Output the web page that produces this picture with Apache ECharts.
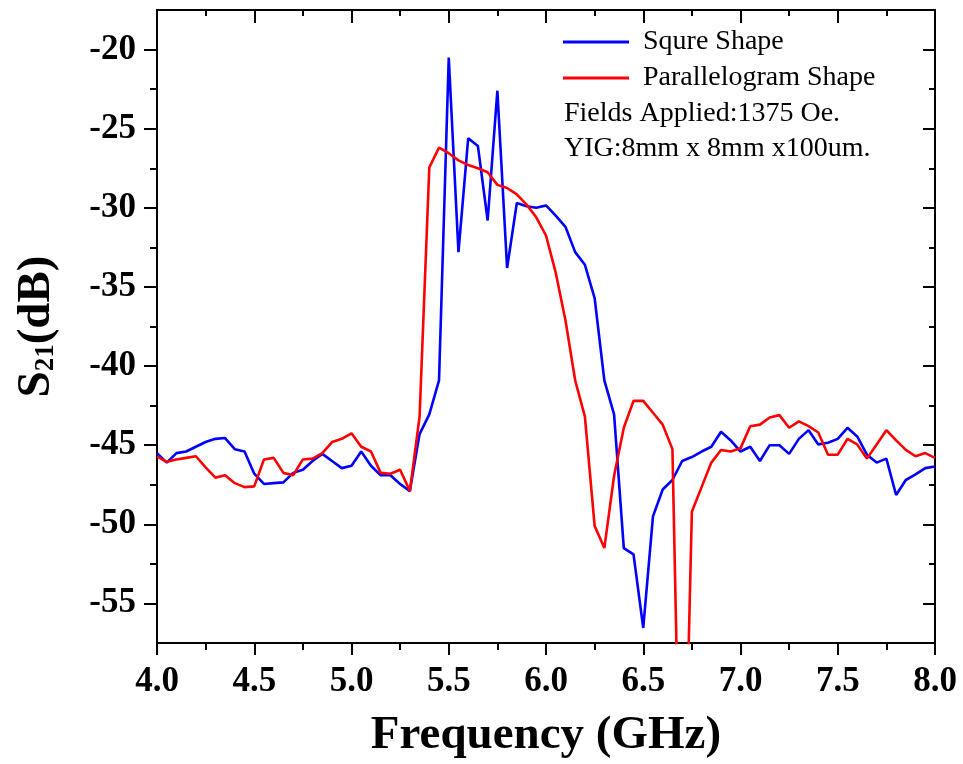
<!DOCTYPE html>
<html>
<head>
<meta charset="utf-8">
<script src="https://cdn.jsdelivr.net/npm/echarts@6/dist/echarts.min.js"></script>
<style>html,body{margin:0;padding:0;background:#fff}#c{width:963px;height:764px}</style>
</head>
<body>
<div id="c"></div>
<script>
var freqs = [4.00,4.05,4.10,4.15,4.20,4.25,4.30,4.35,4.40,4.45,4.50,4.55,4.60,4.65,4.70,4.75,4.80,4.85,4.90,4.95,
5.00,5.05,5.10,5.15,5.20,5.25,5.30,5.35,5.40,5.45,5.50,5.55,5.60,5.65,5.70,5.75,5.80,5.85,5.90,5.95,
6.00,6.05,6.10,6.15,6.20,6.25,6.30,6.35,6.40,6.45,6.50,6.55,6.60,6.65,6.70,6.75,6.80,6.85,6.90,6.95,
7.00,7.05,7.10,7.15,7.20,7.25,7.30,7.35,7.40,7.45,7.50,7.55,7.60,7.65,7.70,7.75,7.80,7.85,7.90,7.95,8.00];
var squre = [-45.5,-46.1,-45.5,-45.4,-45.1,-44.8,-44.6,-44.55,-45.25,-45.4,-46.8,-47.45,-47.4,-47.35,-46.75,-46.55,-46.0,-45.55,-46.0,-46.45,
-46.3,-45.4,-46.3,-46.9,-46.9,-47.45,-47.9,-44.3,-43.05,-40.9,-20.5,-32.8,-25.6,-26.1,-30.8,-22.6,-33.8,-29.7,-29.9,-30.0,
-29.85,-30.5,-31.2,-32.8,-33.6,-35.7,-40.9,-43.05,-51.5,-51.9,-56.55,-49.5,-47.8,-47.2,-46.0,-45.75,-45.4,-45.1,-44.15,-44.7,
-45.4,-45.1,-46.0,-45.0,-45.0,-45.55,-44.6,-44.05,-44.95,-44.85,-44.6,-43.9,-44.45,-45.6,-46.1,-45.85,-48.15,-47.2,-46.85,-46.45,-46.35];
var parallelogram = [-45.7,-46.05,-45.9,-45.8,-45.7,-46.4,-47.05,-46.9,-47.4,-47.65,-47.6,-45.9,-45.8,-46.75,-46.9,-45.9,-45.85,-45.5,-44.8,-44.6,
-44.25,-45.1,-45.4,-46.75,-46.8,-46.55,-47.9,-43.2,-27.45,-26.2,-26.55,-27.0,-27.3,-27.5,-27.75,-28.55,-28.75,-29.15,-29.8,-30.6,
-31.75,-34.1,-37.1,-40.9,-43.2,-50.1,-51.5,-46.95,-43.9,-42.2,-42.2,-42.95,-43.7,-45.25,-75,-49.2,-47.65,-46.1,-45.3,-45.4,
-45.2,-43.8,-43.7,-43.25,-43.1,-43.9,-43.5,-43.8,-44.2,-45.6,-45.6,-44.6,-44.95,-45.85,-44.95,-44.05,-44.7,-45.3,-45.7,-45.5,-45.8];
var yMajorTicks = [-55,-50,-45,-40,-35,-30,-25,-20];
var yMinorTicks = [-52.5,-47.5,-42.5,-37.5,-32.5,-27.5,-22.5];
var seriesNames = ['Squre Shape','Parallelogram Shape'];
var noteLines = ['Fields Applied:1375 Oe.','YIG:8mm x 8mm x100um.'];

var FF = 'Liberation Serif';
function pairs(v){ return freqs.map(function(f,i){ return [f, v[i]]; }); }
var axisLine = {show:true, lineStyle:{color:'#000', width:2}};

var chart = echarts.init(document.getElementById('c'), null, {renderer:'canvas'});
chart.setOption({
  animation:false,
  backgroundColor:'#fff',
  grid:{left:157, right:28, top:10, bottom:121},
  title:{text:noteLines.join('\n'), left:564, top:96, padding:0,
    textStyle:{fontFamily:FF, fontSize:28, fontWeight:'normal', color:'#000', lineHeight:35}},
  legend:{orient:'vertical', left:563, top:28, padding:0, icon:'rect', itemWidth:66, itemHeight:3, itemGap:8,
    data:seriesNames,
    textStyle:{fontFamily:FF, fontSize:28, color:'#000', lineHeight:28, padding:[0,0,0,9]}},
  xAxis:[{
    type:'value', min:4, max:8, interval:0.5, position:'bottom',
    name:'Frequency (GHz)', nameLocation:'middle', nameGap:69,
    nameTextStyle:{fontFamily:FF, fontSize:47, fontWeight:'bold', color:'#000'},
    axisLine:axisLine,
    axisTick:{show:true, inside:false, length:12, lineStyle:{color:'#000', width:2}},
    minorTick:{show:true, splitNumber:2, length:7, lineStyle:{color:'#000', width:2}},
    axisLabel:{fontFamily:FF, fontSize:35, fontWeight:'bold', color:'#000', margin:21,
      formatter:function(v){return v.toFixed(1);}},
    splitLine:{show:false}
  },{
    type:'value', min:4, max:8, interval:0.5, position:'top',
    axisLine:axisLine,
    axisTick:{show:true, inside:true, length:13, lineStyle:{color:'#000', width:2}},
    minorTick:{show:true, splitNumber:2, length:6, lineStyle:{color:'#000', width:2}},
    axisLabel:{show:false}, splitLine:{show:false}
  }],
  yAxis:[{
    type:'value', min:-57.5, max:-17.5, position:'left',
    name:'{a|S}{b|21}{a|(dB)}', nameLocation:'middle', nameRotate:90, nameGap:97,
    nameTextStyle:{color:'#000', rich:{
      a:{fontFamily:FF, fontSize:47, fontWeight:'bold', color:'#000'},
      b:{fontFamily:FF, fontSize:27, fontWeight:'bold', color:'#000', verticalAlign:'bottom'}
    }},
    axisLine:axisLine,
    axisTick:{show:true, inside:false, length:13, customValues:yMajorTicks, lineStyle:{color:'#000', width:2}},
    axisLabel:{fontFamily:FF, fontSize:35, fontWeight:'bold', color:'#000', margin:21, customValues:yMajorTicks},
    splitLine:{show:false}
  },{
    type:'value', min:-57.5, max:-17.5, position:'left',
    axisLine:{show:false},
    axisTick:{show:true, inside:false, length:7, customValues:yMinorTicks, lineStyle:{color:'#000', width:2}},
    axisLabel:{show:false}, splitLine:{show:false}
  },{
    type:'value', min:-57.5, max:-17.5, position:'right',
    axisLine:axisLine,
    axisTick:{show:true, inside:true, length:12, customValues:yMajorTicks, lineStyle:{color:'#000', width:2}},
    axisLabel:{show:false}, splitLine:{show:false}
  },{
    type:'value', min:-57.5, max:-17.5, position:'right',
    axisLine:{show:false},
    axisTick:{show:true, inside:true, length:6, customValues:yMinorTicks, lineStyle:{color:'#000', width:2}},
    axisLabel:{show:false}, splitLine:{show:false}
  }],
  series:[{
    name:seriesNames[0], type:'line', data:pairs(squre), showSymbol:false, symbol:'none',
    xAxisIndex:0, yAxisIndex:0, clip:true,
    itemStyle:{color:'#0000ff'}, lineStyle:{color:'#0000ff', width:2.6}
  },{
    name:seriesNames[1], type:'line', data:pairs(parallelogram), showSymbol:false, symbol:'none',
    xAxisIndex:0, yAxisIndex:0, clip:true,
    itemStyle:{color:'#ff0000'}, lineStyle:{color:'#ff0000', width:2.6}
  }]
});
</script>
</body>
</html>
